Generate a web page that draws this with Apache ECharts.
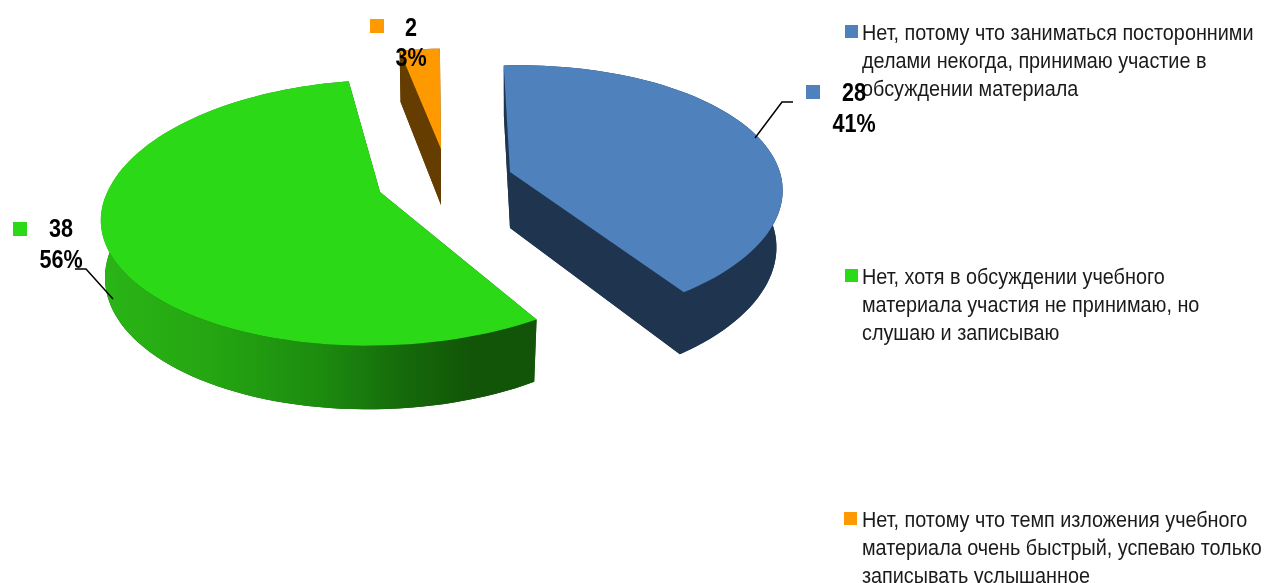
<!DOCTYPE html>
<html><head><meta charset="utf-8">
<style>html,body{margin:0;padding:0;background:#fff}#c{width:1264px;height:583px}</style>
<script src="https://cdn.jsdelivr.net/npm/echarts@6/dist/echarts.min.js"></script>
</head><body><div id="c"></div>
<script>
const categories = [
  ['Нет, потому что заниматься посторонними','делами некогда, принимаю участие в','обсуждении материала'],
  ['Нет, хотя в обсуждении учебного','материала участия не принимаю, но','слушаю и записываю'],
  ['Нет, потому что темп изложения учебного','материала очень быстрый, успеваю только','записывать услышанное']
];
const values = [28, 38, 2];
const percents = [41, 56, 3];

const colors = ['#4f81bd', '#2cd916', '#ff9900'];
const wallColors = ['#1f344f', '#125508', '#663d00'];
const apex = [[510,172],[380,192],[441,149]];
const sliceRot = [-1.3, 3, 0];
const sliceScaleX = [0.985, 0.995, 0.94];
const sliceScaleY = [1, 1, 0.94];
const sliceBackY = [1, 1.05, 1];
const sliceLowX = [0.977, 0.985, 0.977];
const startDeg = -2.4;
const RX = 274, A = 126, K = 0.18, SHEAR = 0.08;
const total = values.reduce((a,b)=>a+b,0);

function proj(deg, c, low, i){
  const t = deg*Math.PI/180, u = Math.sin(t), v = Math.cos(t), d = 1 + K*v;
  let x = RX*u/d*sliceScaleX[i], y = -A*v/d*sliceScaleY[i];
  if(v>0) y *= sliceBackY[i];
  x += -SHEAR*y;
  if(low){ x *= sliceLowX[i]; y = y*1.05 + 56; }
  return [c[0]+x, c[1]+y];
}
function arc(a0,a1,c,low,i){
  const n = Math.max(6, Math.ceil(Math.abs(a1-a0)/2)), p = [];
  for(let k=0;k<=n;k++) p.push(proj(a0+(a1-a0)*k/n,c,low,i));
  return p;
}
function renderItem(params, api){
  const i = api.value(0), val = api.value(1);
  let a0 = startDeg;
  for(let k=0;k<i;k++) a0 += values[k]/total*360;
  const a1 = a0 + val/total*360 + sliceRot[i];
  a0 += sliceRot[i];
  const c = apex[i];
  const cLow = [c[0], c[1]+56];
  const top = arc(a0,a1,c,false,i), bot = arc(a0,a1,c,true,i);
  const wallFill = i===1
    ? new echarts.graphic.LinearGradient(0,0,1,0,[
        {offset:0,color:'#2ab516'},{offset:0.25,color:'#25a612'},
        {offset:0.5,color:'#1c8c0f'},{offset:0.7,color:'#15690a'},{offset:0.85,color:'#125508'},{offset:1,color:'#125508'}])
    : wallColors[i];
  const kids = [];
  const poly = (pts,fill)=>kids.push({type:'polygon',shape:{points:pts},style:{fill:fill},silent:true});
  poly([cLow].concat(bot), wallColors[i]);
  poly([c,top[0],bot[0],cLow], wallColors[i]);
  poly([c,top[top.length-1],bot[bot.length-1],cLow], wallColors[i]);
  poly(top.concat(bot.slice().reverse()), wallFill);
  poly([c].concat(top), colors[i]);
  return {type:'group',children:kids};
}

const FAMILY = '"Liberation Sans",Arial,sans-serif';
const graphics = [];
const legendY = [[25,33.5],[269,277.5],[512,520.5]];
const legendX = [845,845,844];
categories.forEach((lines,i)=>{
  graphics.push({type:'rect',left:legendX[i],top:legendY[i][0],shape:{width:13,height:13},style:{fill:colors[i]},z:5});
  lines.forEach((t,j)=>graphics.push({type:'text',x:862,y:legendY[i][1]+j*28,scaleX:0.9,
    style:{text:t,font:'22px '+FAMILY,fill:'#1a1a1a',verticalAlign:'middle'},z:6}));
});
const labelPos = [[854,94,125],[61,230,261],[411,29,59]];
const markerPos = [[806,85],[13,222],[370,19]];
values.forEach((v,i)=>{
  graphics.push({type:'rect',left:markerPos[i][0],top:markerPos[i][1],shape:{width:14,height:14},style:{fill:colors[i]},z:5});
  [String(v),percents[i]+'%'].forEach((t,j)=>graphics.push({type:'text',x:labelPos[i][0],y:labelPos[i][j+1],scaleX:0.83,
    style:{text:t,font:'bold 26px '+FAMILY,fill:'#000',align:'center',verticalAlign:'middle'},z:7}));
});
graphics.push({type:'polyline',shape:{points:[[755,138],[782,102],[793,102]]},style:{stroke:'#000',lineWidth:1.5,fill:null},z:4});
graphics.push({type:'polyline',shape:{points:[[113,299],[86,269],[75,269]]},style:{stroke:'#000',lineWidth:1.5,fill:null},z:4});

const chart = echarts.init(document.getElementById('c'),null,{renderer:'canvas',width:1264,height:583});
chart.setOption({
  animation:false,
  backgroundColor:'#fff',
  series:[{type:'custom',coordinateSystem:'none',renderItem:renderItem,
    data:[[2,values[2]],[0,values[0]],[1,values[1]]],z:2}],
  graphic:graphics
});
</script></body></html>
